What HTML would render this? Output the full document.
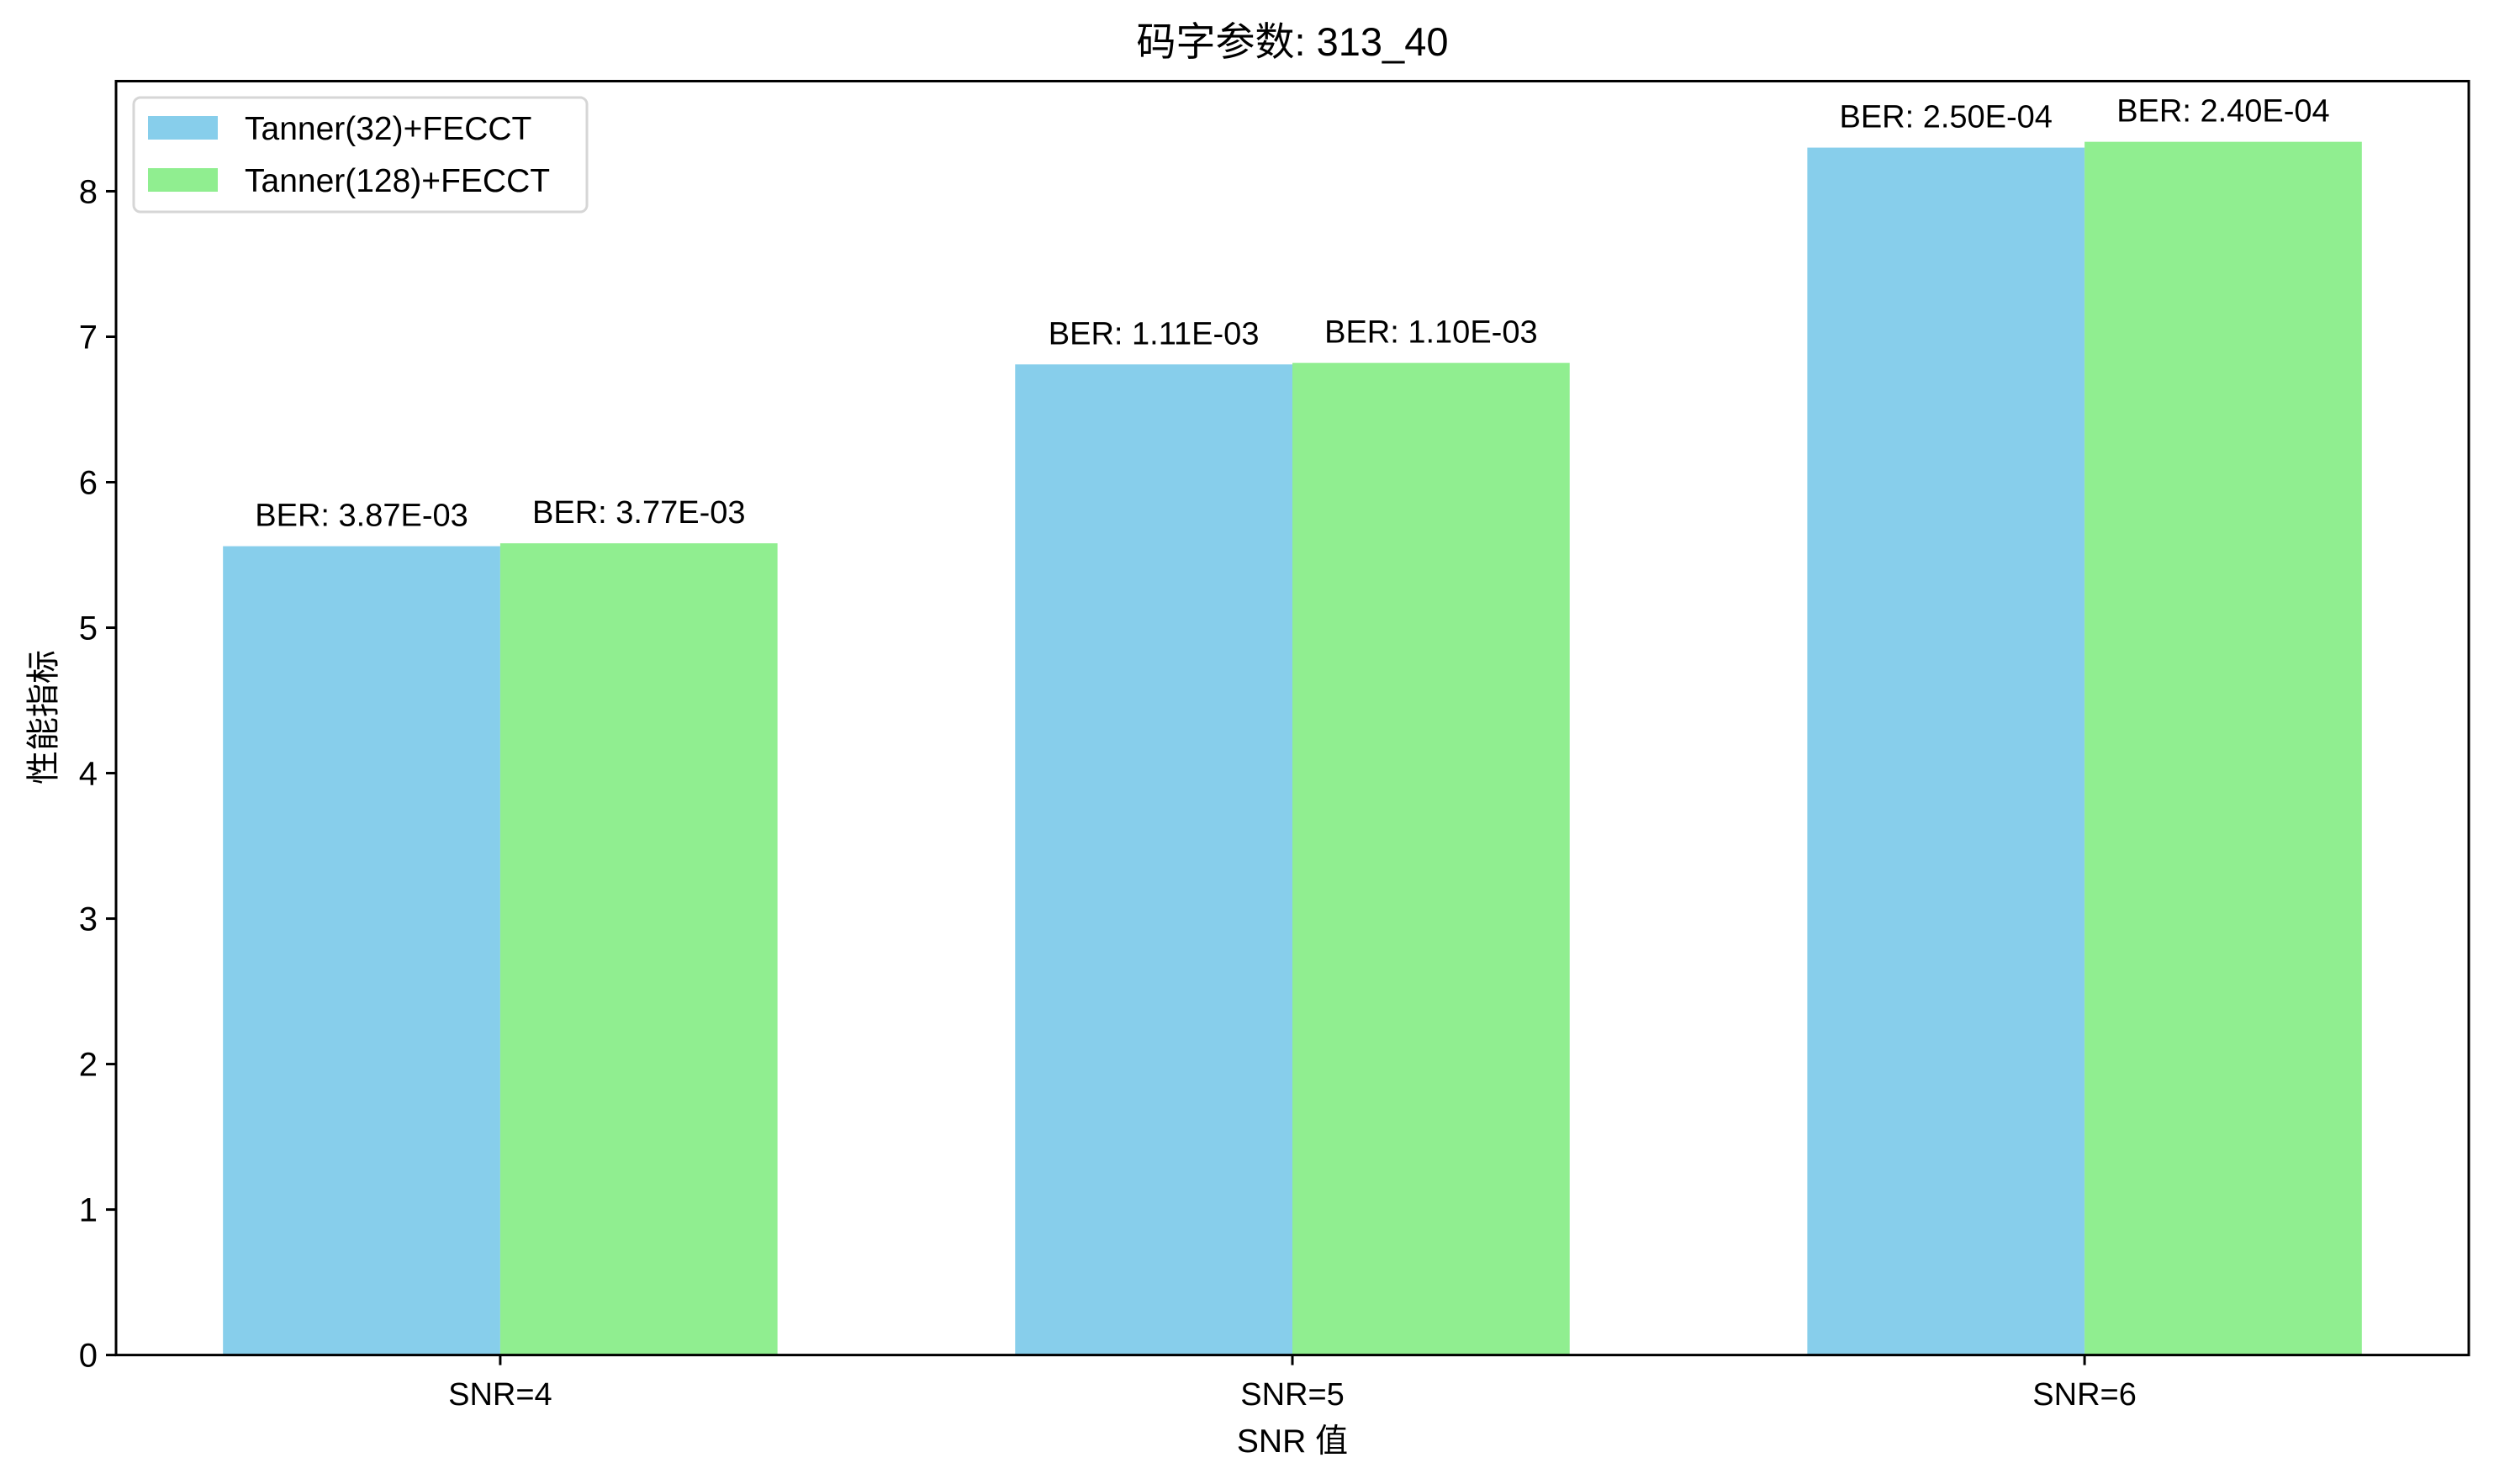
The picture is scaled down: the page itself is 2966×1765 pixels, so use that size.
<!DOCTYPE html>
<html><head><meta charset="utf-8"><style>
html,body{margin:0;padding:0;background:#fff;}
svg{display:block;font-family:"Liberation Sans","Noto Sans CJK SC",sans-serif;}
</style></head><body>
<svg id="chart" width="2966" height="1765" viewBox="0 0 2966 1765" xmlns="http://www.w3.org/2000/svg">
<rect x="0" y="0" width="2966" height="1765" fill="#fff"/>
<g id="plot"></g>
</svg>
<script>
const categories = ["SNR=4","SNR=5","SNR=6"];
const series1 = [5.56, 6.81, 8.30];
const series2 = [5.58, 6.82, 8.34];
const labels1 = ["BER: 3.87E-03","BER: 1.11E-03","BER: 2.50E-04"];
const labels2 = ["BER: 3.77E-03","BER: 1.10E-03","BER: 2.40E-04"];
const yTicks = [0,1,2,3,4,5,6,7,8];
const seriesNames = ["Tanner(32)+FECCT","Tanner(128)+FECCT"];

const NS="http://www.w3.org/2000/svg";
const L=138,R=2936,T=96.5,B=1611.6;
const barW=0.35;
const xmin=-barW-0.135, xmax=categories.length-1+barW+0.135;
const ymax=Math.max(...series1,...series2)*1.05;
function xs(v){return L+(v-xmin)/(xmax-xmin)*(R-L);}
function ys(v){return B-v/ymax*(B-T);}
const g=document.getElementById('plot');
function mk(tag,attrs,text){const e=document.createElementNS(NS,tag);for(const k in attrs)e.setAttribute(k,attrs[k]);if(text!==undefined)e.textContent=text;g.appendChild(e);return e;}

const colors=["#87ceeb","#90ee90"];
[series1,series2].forEach((s,si)=>{
  const labs=si===0?labels1:labels2;
  s.forEach((v,i)=>{
    const x0=xs(i-barW+si*barW), x1=xs(i+si*barW);
    const r=mk('rect',{x:x0,y:ys(v),width:x1-x0,height:B-ys(v),fill:colors[si]});
    
    
    const t=mk('text',{x:(x0+x1)/2,y:ys(v)-24,'font-size':38,'text-anchor':'middle',fill:'#000'},labs[i]);
    
    
  });
});

const frame=mk('rect',{x:L,y:T,width:R-L,height:B-T,fill:'none',stroke:'#000','stroke-width':3});



yTicks.forEach(v=>{
  const y=ys(v);
  const tk=mk('line',{x1:L-12,x2:L,y1:y,y2:y,stroke:'#000','stroke-width':3});
  
  
  const t=mk('text',{x:L-22,y:y+14,'font-size':40,'text-anchor':'end'},String(v));
  
  
});
categories.forEach((c,i)=>{
  const x=xs(i);
  const tk=mk('line',{x1:x,x2:x,y1:B,y2:B+12,stroke:'#000','stroke-width':3});
  
  
  const t=mk('text',{x:x,y:1671,'font-size':38,'text-anchor':'middle'},c);
  
  
});

const title=mk('text',{x:(L+R)/2,y:66,'font-size':47,'text-anchor':'middle'},'码字参数: 313_40');


const xl=mk('text',{x:(L+R)/2,y:1727,'font-size':39,'text-anchor':'middle'},'SNR 值');


const yl=mk('text',{x:0,y:0,'font-size':40,'text-anchor':'middle',transform:'translate(65,853) rotate(-90)'},'性能指标');



const lg=mk('rect',{x:159,y:116,width:539,height:136,rx:8,fill:'#fff','fill-opacity':0.8,stroke:'#d6d6d6','stroke-width':3});


seriesNames.forEach((n,i)=>{
  const cy=152+i*62;
  const p=mk('rect',{x:176,y:cy-14,width:83,height:28,fill:colors[i]});
  
  
  const t=mk('text',{x:291,y:cy+14,'font-size':39},n);
  
  
});
</script>
</body></html>
